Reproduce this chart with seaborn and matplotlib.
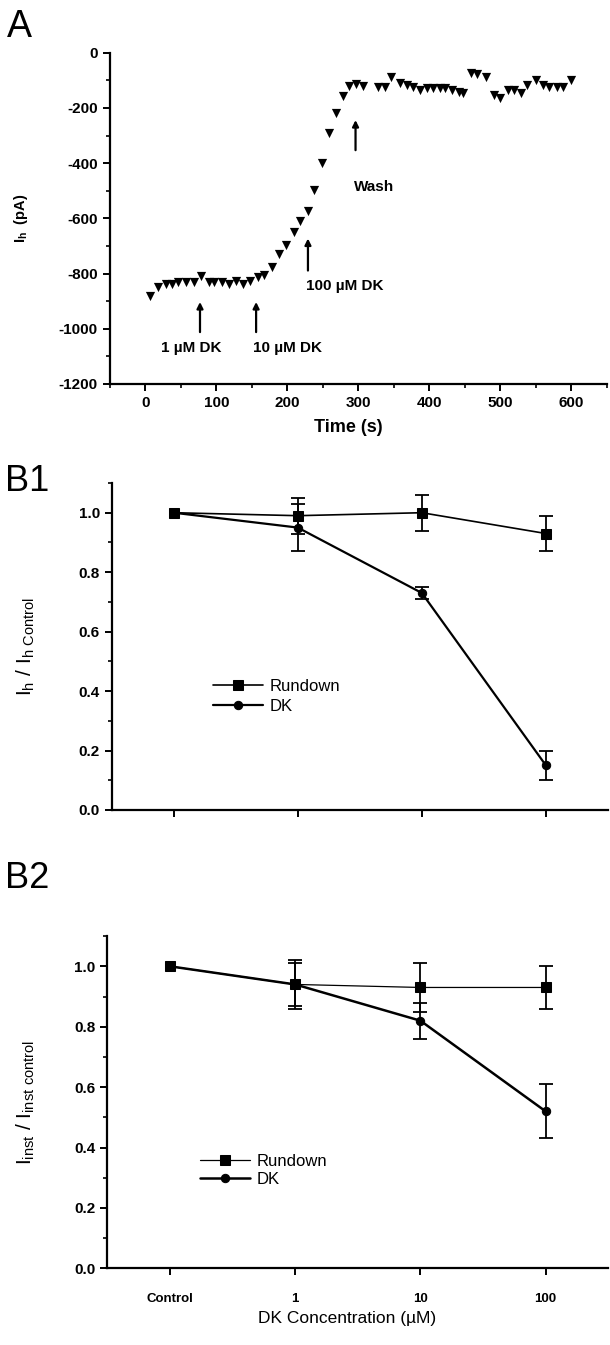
import matplotlib
matplotlib.use("Agg")
import matplotlib.pyplot as plt
from matplotlib.ticker import MultipleLocator
import seaborn as sns

# --- panel A: Ih time course (s, pA) ---
time_s = [7, 18, 29, 37, 46, 57, 68, 78, 89, 97,
          108, 118, 128, 138, 147, 158, 167, 178, 188, 198,
          209, 218, 229, 238, 249, 258, 268, 278, 287, 296,
          306, 327, 337, 346, 358, 368, 377, 387, 396, 405,
          415, 422, 432, 441, 448, 458, 467, 479, 491, 500,
          510, 519, 529, 538, 550, 560, 569, 579, 588, 599]
ih_pA = [-881, -850, -838, -838, -830, -830, -830, -808, -830, -830,
         -830, -838, -826, -838, -826, -814, -805, -775, -730, -695,
         -650, -608, -575, -497, -399, -290, -220, -157, -120, -112,
         -122, -124, -123, -87, -111, -117, -123, -135, -129, -129,
         -129, -129, -135, -141, -145, -75, -77, -87, -153, -165,
         -135, -135, -147, -117, -99, -117, -123, -123, -123, -99]

# drug application markers: (label, time, arrow bottom, arrow top, label x, label y)
events = [
    ("1 µM DK", 77, -1012, -903, 65, -1070),
    ("10 µM DK", 156, -1012, -903, 200, -1070),
    ("100 µM DK", 229, -789, -673, 281, -845),
    ("Wash", 296, -353, -244, 322, -485),
]

# --- panels B1 / B2: normalised current vs DK concentration ---
conc_labels = ["Control", "1", "10", "100"]
b1_rundown = [1.00, 0.99, 1.00, 0.93]
b1_rundown_err = [0, 0.06, 0.06, 0.06]
b1_dk = [1.00, 0.95, 0.73, 0.15]
b1_dk_err = [0, 0.08, 0.02, 0.05]

b2_rundown = [1.00, 0.94, 0.93, 0.93]
b2_rundown_err = [0, 0.08, 0.08, 0.07]
b2_dk = [1.00, 0.94, 0.82, 0.52]
b2_dk_err = [0, 0.07, 0.06, 0.09]

sns.set_style("ticks")
plt.rcParams["font.family"] = ["Liberation Sans", "DejaVu Sans"]
plt.rcParams["mathtext.default"] = "regular"
plt.rcParams["axes.unicode_minus"] = False
plt.rcParams["axes.linewidth"] = 1.6
for key in ["text.color", "axes.labelcolor", "xtick.color", "ytick.color",
            "axes.edgecolor"]:
    plt.rcParams[key] = "black"

fig = plt.figure(figsize=(6.1, 13.45), dpi=100)
axA = fig.add_axes([0.180, 0.7145, 0.815, 0.2463])
axB1 = fig.add_axes([0.183, 0.3978, 0.8136, 0.2431])
axB2 = fig.add_axes([0.176, 0.057, 0.821, 0.247])


def style_axis(ax):
    sns.despine(ax=ax)
    ax.tick_params(which="major", direction="out", length=5, width=1.4,
                   labelsize=11)
    ax.tick_params(which="minor", direction="out", length=3, width=1.2)
    for lab in ax.get_xticklabels() + ax.get_yticklabels():
        lab.set_fontweight("bold")


# ---- A ----
sns.scatterplot(x=time_s, y=ih_pA, marker="v", color="black", s=44,
                linewidth=0, ax=axA, zorder=3)
axA.set_xlim(-50, 650)
axA.set_ylim(-1200, 0)
axA.xaxis.set_major_locator(MultipleLocator(100))
axA.xaxis.set_minor_locator(MultipleLocator(50))
axA.yaxis.set_major_locator(MultipleLocator(200))
axA.yaxis.set_minor_locator(MultipleLocator(100))
style_axis(axA)
axA.set_xlabel("Time (s)", fontsize=13, fontweight="bold")
axA.xaxis.set_label_coords(0.479, -0.105)
axA.set_ylabel("I$_h$  (pA)", fontsize=10.5, fontweight="bold")
axA.yaxis.set_label_coords(-0.16, 0.5)
for label, t, y0, y1, lx, ly in events:
    axA.annotate("", xy=(t, y1), xytext=(t, y0),
                 arrowprops=dict(arrowstyle="-|>", color="black", lw=1.6,
                                 mutation_scale=9, shrinkA=0, shrinkB=0))
    axA.text(lx, ly, label, ha="center", va="center", fontsize=11,
             fontweight="bold")


# ---- B panels ----
def dose_panel(ax, rundown, rundown_err, dk, dk_err, lw_run, lw_dk):
    sns.lineplot(x=conc_labels, y=rundown, marker="s", color="black",
                 markersize=7, markeredgecolor="black", linewidth=lw_run,
                 label="Rundown", ax=ax, sort=False, zorder=3)
    sns.lineplot(x=conc_labels, y=dk, marker="o", color="black",
                 markersize=6, markeredgecolor="black", linewidth=lw_dk,
                 label="DK", ax=ax, sort=False, zorder=3)
    ax.errorbar(conc_labels[1:], rundown[1:], yerr=rundown_err[1:], fmt="none",
                ecolor="black", elinewidth=1.3, capsize=5, capthick=1.3)
    ax.errorbar(conc_labels[1:], dk[1:], yerr=dk_err[1:], fmt="none",
                ecolor="black", elinewidth=1.3, capsize=5, capthick=1.3)
    ax.set_xlim(-0.5, 3.5)
    ax.set_ylim(0, 1.1)
    ax.yaxis.set_major_locator(MultipleLocator(0.2))
    ax.yaxis.set_minor_locator(MultipleLocator(0.1))
    ax.yaxis.set_major_formatter(plt.FormatStrFormatter("%.1f"))
    ax.set_xlabel("")
    style_axis(ax)


narrow = ["Liberation Sans Narrow", "Liberation Sans", "DejaVu Sans"]

dose_panel(axB1, b1_rundown, b1_rundown_err, b1_dk, b1_dk_err, 1.2, 1.6)
axB1.tick_params(axis="x", labelbottom=False)
axB1.set_ylabel("I$_h$ / I$_{h\\ Control}$", fontsize=15, family=narrow)
axB1.yaxis.set_label_coords(-0.15, 0.5)
axB1.legend(loc="upper left", bbox_to_anchor=(0.204, 0.40), frameon=False,
            borderaxespad=0, borderpad=0, handlelength=3.0, handletextpad=0.4,
            labelspacing=0.3, fontsize=12)

dose_panel(axB2, b2_rundown, b2_rundown_err, b2_dk, b2_dk_err, 0.9, 1.8)
axB2.tick_params(axis="x", pad=13, labelsize=9.5)
axB2.set_xlabel("DK Concentration (µM)", fontsize=12.5)
axB2.xaxis.set_label_coords(0.478, -0.128)
axB2.set_ylabel("I$_{inst}$ / I$_{inst\\ control}$", fontsize=15, family=narrow)
axB2.yaxis.set_label_coords(-0.14, 0.5)
axB2.legend(loc="upper left", bbox_to_anchor=(0.185, 0.345), frameon=False,
            borderaxespad=0, borderpad=0, handlelength=3.0, handletextpad=0.4,
            labelspacing=0.2, fontsize=12)

# panel letters
fig.text(0.012, 0.993, "A", fontsize=27, va="top", ha="left")
fig.text(0.008, 0.655, "B1", fontsize=26, va="top", ha="left")
fig.text(0.008, 0.360, "B2", fontsize=26, va="top", ha="left")

fig.savefig("out.png", dpi=100)
